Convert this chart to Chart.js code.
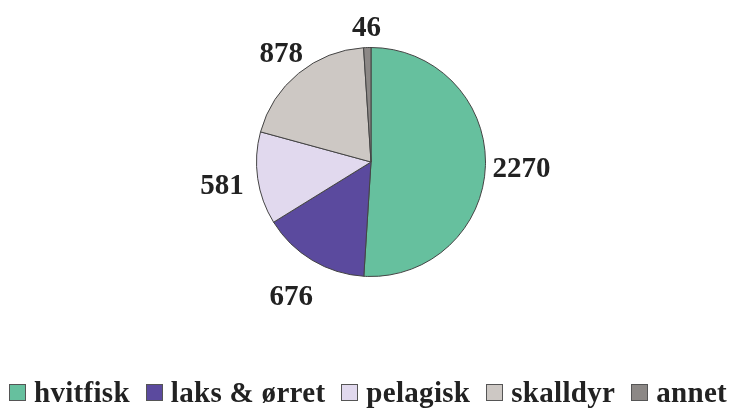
<!DOCTYPE html>
<html>
<head>
<meta charset="utf-8">
<script src="https://cdn.jsdelivr.net/npm/chart.js@4"></script>
<style>
  body { margin: 0; background: #fff; }
  #wrap { position: relative; width: 736px; height: 411px; }
  #legend {
    position: absolute; left: 0; right: 0; top: 376px;
    display: flex; justify-content: center; align-items: center;
    font-family: "Liberation Serif", serif; font-weight: bold; font-size: 29px;
    color: #222; white-space: nowrap; letter-spacing: 0.3px;
  }
  .item { display: flex; align-items: center; margin: 0 8px; }
  .box { width: 15px; height: 15px; border: 1.5px solid #555; margin-right: 8px; }
</style>
</head>
<body>
<div id="wrap">
  <canvas id="pie" width="736" height="411"></canvas>
  <div id="legend"></div>
</div>
<script>
const labels = ["hvitfisk", "laks & ørret", "pelagisk", "skalldyr", "annet"];
const values = [2270, 676, 581, 878, 46];
const colors = ["#66c09e", "#5b4a9e", "#e1d9ee", "#cdc8c4", "#8c8886"];

// value labels outside the slices
const outsideLabels = {
    id: "outsideLabels",
    afterDatasetsDraw(chart) {
        const ctx = chart.ctx;
        const meta = chart.getDatasetMeta(0);
        ctx.save();
        ctx.font = "bold 29px 'Liberation Serif', serif";
        ctx.fillStyle = "#222";
        ctx.textAlign = "center";
        ctx.textBaseline = "middle";
        meta.data.forEach((arc, i) => {
            const p = arc.getProps(["x", "y", "startAngle", "endAngle", "outerRadius"], true);
            const mid = (p.startAngle + p.endAngle) / 2;
            const dy = Math.sin(mid);
            let r = p.outerRadius + 36;
            if (dy < 0) r -= 14 * dy * dy;
            else r += 6 * dy * dy;
            ctx.fillText(String(values[i]), p.x + Math.cos(mid) * r, p.y + dy * r + 3);
        });
        ctx.restore();
    }
};

new Chart(document.getElementById("pie"), {
    type: "pie",
    data: {
        labels: labels,
        datasets: [{
            data: values,
            backgroundColor: colors,
            borderColor: "#444",
            borderWidth: 1
        }]
    },
    options: {
        responsive: false,
        animation: false,
        layout: { padding: { top: 47, bottom: 134, left: 256, right: 250 } },
        plugins: { legend: { display: false }, tooltip: { enabled: false } }
    },
    plugins: [outsideLabels]
});

const legend = document.getElementById("legend");
labels.forEach((name, i) => {
    const item = document.createElement("div");
    item.className = "item";
    const box = document.createElement("span");
    box.className = "box";
    box.style.background = colors[i];
    const txt = document.createElement("span");
    txt.textContent = name;
    item.appendChild(box);
    item.appendChild(txt);
    legend.appendChild(item);
});
</script>
</body>
</html>
